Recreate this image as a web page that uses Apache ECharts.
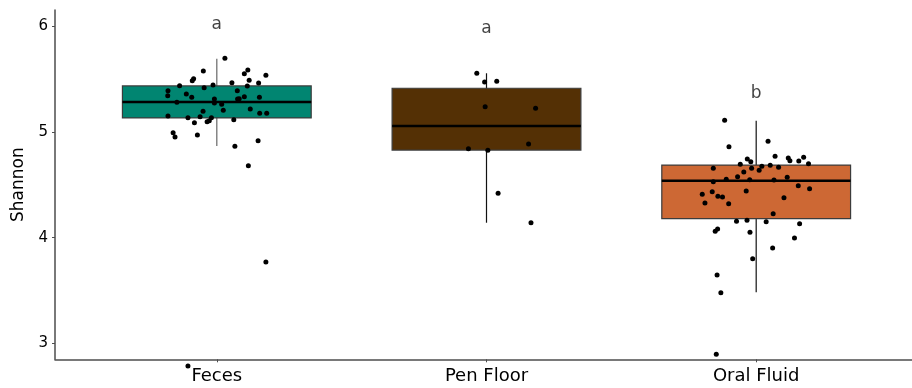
<!DOCTYPE html>
<html>
<head>
<meta charset="utf-8">
<script src="https://cdn.jsdelivr.net/npm/echarts@6/dist/echarts.min.js"></script>
<style>
  html, body { margin: 0; padding: 0; background: #fff; }
  #chart { width: 912px; height: 388px; }
</style>
</head>
<body>
<div id="chart"></div>
<script>
// Sample types along the x axis (positions 1, 2, 3)
const categories = ['Feces', 'Pen Floor', 'Oral Fluid'];
const boxColors = ['#018571', '#543005', '#cd6834'];

// Box statistics per sample type
const whiskerLow  = [4.868, 4.142, 3.483];
const quartile1   = [5.134, 4.830, 4.180];
const medians     = [5.285, 5.058, 4.540];
const quartile3   = [5.437, 5.415, 4.688];
const whiskerHigh = [5.695, 5.557, 5.108];

// Significance letters and their heights
const groupLetters = ['a', 'a', 'b'];
const letterY = [6.014, 5.976, 5.367];

// y axis ticks
const yTicks = [3, 4, 5, 6];

// Individual samples: [jittered x position, Shannon index]
const fecesPoints = [
  [1.030, 5.699], [0.950, 5.579], [1.115, 5.588], [1.102, 5.553], [1.182, 5.538],
  [0.914, 5.506], [0.909, 5.487], [1.120, 5.490], [1.056, 5.468], [1.155, 5.465],
  [0.862, 5.440], [0.986, 5.446], [1.113, 5.437], [0.953, 5.420], [0.819, 5.392],
  [1.076, 5.392], [0.818, 5.345], [0.887, 5.361], [0.907, 5.330], [0.991, 5.313],
  [1.102, 5.335], [1.158, 5.330], [1.077, 5.313], [1.083, 5.316], [0.852, 5.282],
  [0.991, 5.276], [1.018, 5.263], [1.024, 5.206], [0.949, 5.197], [1.124, 5.219],
  [1.159, 5.178], [1.185, 5.178], [0.819, 5.152], [0.893, 5.136], [0.938, 5.146],
  [0.980, 5.136], [0.972, 5.108], [0.964, 5.099], [1.063, 5.117], [0.917, 5.089],
  [0.838, 4.994], [0.845, 4.953], [0.928, 4.972], [1.067, 4.866], [1.153, 4.919],
  [1.117, 4.682], [1.182, 3.770], [0.893, 2.785]
];
const penFloorPoints = [
  [1.964, 5.557], [1.993, 5.474], [2.038, 5.481], [1.995, 5.241], [2.182, 5.225],
  [1.933, 4.843], [2.005, 4.828], [2.156, 4.887], [2.043, 4.420], [2.165, 4.142]
];
const oralFluidPoints = [
  [2.883, 5.112], [2.899, 4.862], [3.044, 4.913], [3.070, 4.771], [3.119, 4.755],
  [3.125, 4.729], [3.176, 4.761], [3.158, 4.727], [3.194, 4.701], [2.967, 4.745],
  [2.980, 4.720], [2.941, 4.695], [3.021, 4.676], [3.052, 4.685], [3.083, 4.667],
  [2.841, 4.657], [2.983, 4.657], [3.011, 4.638], [2.954, 4.622], [2.931, 4.578],
  [3.115, 4.572], [2.889, 4.553], [2.976, 4.549], [3.066, 4.546], [2.841, 4.530],
  [3.156, 4.492], [3.198, 4.464], [2.963, 4.442], [2.837, 4.436], [2.800, 4.411],
  [2.858, 4.392], [2.875, 4.385], [3.103, 4.379], [2.810, 4.329], [2.898, 4.322],
  [3.063, 4.227], [2.927, 4.155], [2.966, 4.165], [3.037, 4.152], [3.161, 4.133],
  [2.857, 4.083], [2.848, 4.061], [2.977, 4.051], [3.142, 3.997], [3.061, 3.903],
  [2.987, 3.801], [2.855, 3.647], [2.869, 3.479], [2.852, 2.896]
];

const BOX_WIDTH = 0.7;
const axisGray = '#4d4d4d';
const fontFamily = 'DejaVu Sans, Liberation Sans, sans-serif';

const boxData = categories.map((c, i) => [
  i + 1, whiskerLow[i], quartile1[i], medians[i], quartile3[i], whiskerHigh[i]
]);

// Whiskers, box and median bar for each sample type
function renderBox(params, api) {
  const i = params.dataIndex;
  const x = api.value(0);
  const lo = api.coord([x, api.value(1)]);
  const q1 = api.coord([x, api.value(2)]);
  const med = api.coord([x, api.value(3)]);
  const q3 = api.coord([x, api.value(4)]);
  const hi = api.coord([x, api.value(5)]);
  const left = api.coord([x - BOX_WIDTH / 2, api.value(3)])[0];
  const right = api.coord([x + BOX_WIDTH / 2, api.value(3)])[0];
  const whiskerColor = i === 0 ? '#666666' : '#111111';
  return {
    type: 'group',
    children: [
      { type: 'line', shape: { x1: lo[0], y1: lo[1], x2: hi[0], y2: hi[1] },
        style: { stroke: whiskerColor, lineWidth: 1.2 } },
      { type: 'rect', shape: { x: left, y: q3[1], width: right - left, height: q1[1] - q3[1] },
        style: { fill: boxColors[i], stroke: '#3c3c3c', lineWidth: 1.2 } },
      { type: 'line', shape: { x1: left, y1: med[1], x2: right, y2: med[1] },
        style: { stroke: '#000000', lineWidth: 2.4 } }
    ]
  };
}

const pointSeries = (data) => ({
  type: 'scatter',
  data: data,
  symbolSize: 5,
  clip: false,
  itemStyle: { color: '#000000', opacity: 1 },
  z: 5
});

const chart = echarts.init(document.getElementById('chart'), null, { renderer: 'canvas' });
chart.setOption({
  animation: false,
  backgroundColor: '#ffffff',
  grid: {
    left: 55, top: 10, width: 863, bottom: 28.7,
    outerBoundsMode: 'none', containLabel: false
  },
  xAxis: {
    type: 'value',
    min: 0.4, max: 3.6,
    splitLine: { show: false },
    axisLine: { show: true, onZero: false, lineStyle: { color: axisGray, width: 1.5 } },
    axisTick: { show: true, customValues: [1, 2, 3], length: 3, lineStyle: { color: axisGray, width: 1 } },
    axisLabel: {
      customValues: [1, 2, 3],
      formatter: (v) => categories[Math.round(v) - 1],
      color: '#000000', fontSize: 18, fontFamily: fontFamily, margin: 8
    }
  },
  yAxis: {
    type: 'value',
    min: 2.849, max: 6.156,
    name: 'Shannon',
    nameLocation: 'middle',
    nameRotate: 90,
    nameGap: 27,
    nameTextStyle: { color: '#000000', fontSize: 17, fontFamily: fontFamily },
    splitLine: { show: false },
    axisLine: { show: true, onZero: false, lineStyle: { color: axisGray, width: 1.5 } },
    axisTick: { show: true, customValues: yTicks, length: 3, lineStyle: { color: axisGray, width: 1 } },
    axisLabel: {
      customValues: yTicks,
      color: '#000000', fontSize: 15, fontFamily: fontFamily, margin: 7
    }
  },
  series: [
    {
      type: 'custom',
      renderItem: renderBox,
      data: boxData,
      encode: { x: 0, y: [1, 2, 3, 4, 5] },
      z: 2
    },
    pointSeries(fecesPoints),
    pointSeries(penFloorPoints),
    pointSeries(oralFluidPoints),
    {
      type: 'scatter',
      data: letterY.map((y, i) => [i + 1, y]),
      symbolSize: 0,
      label: {
        show: true,
        position: 'inside',
        formatter: (p) => groupLetters[p.dataIndex],
        color: '#111111', fontSize: 17, fontFamily: fontFamily
      },
      z: 6
    }
  ]
});
</script>
</body>
</html>
